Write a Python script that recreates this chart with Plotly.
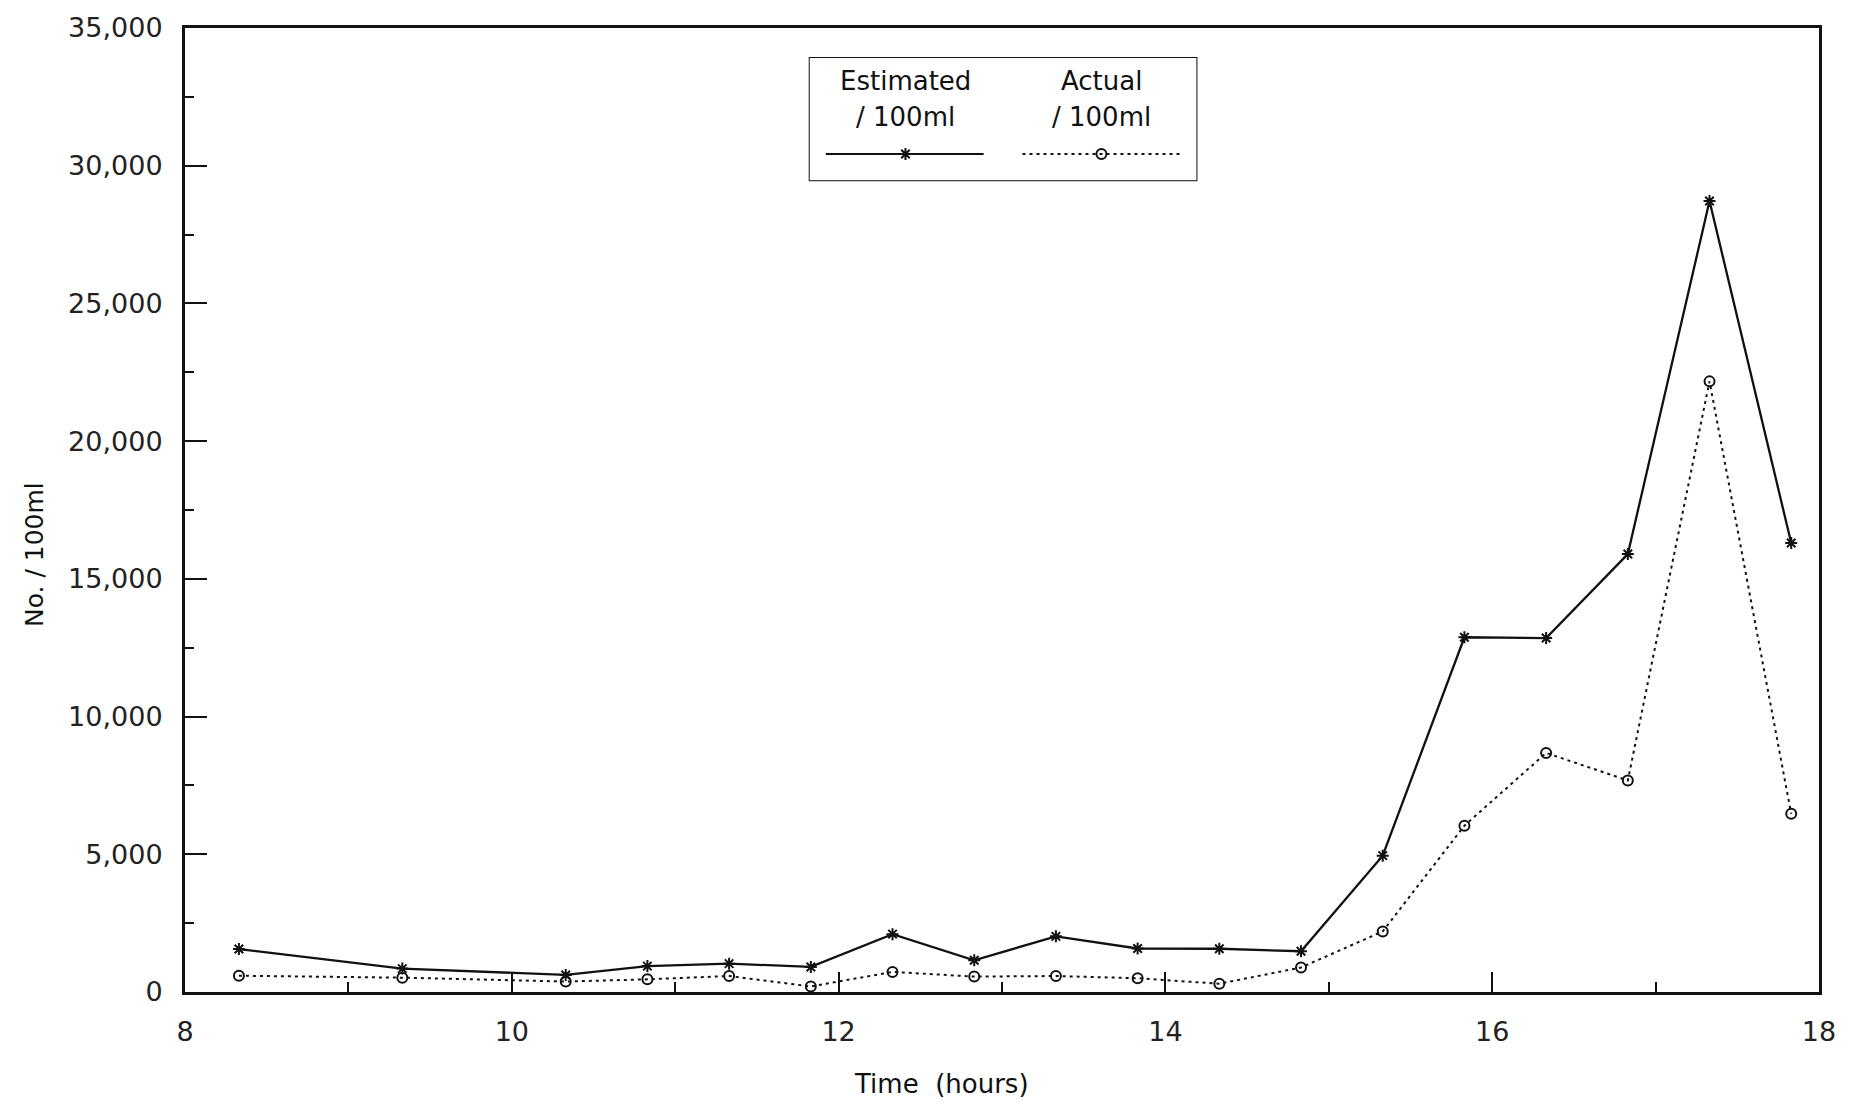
import plotly.graph_objects as go

# Sampling times (hours) and counts per 100 ml
hours = [8.33, 9.33, 10.33, 10.83, 11.33, 11.83, 12.33, 12.83, 13.33,
         13.83, 14.33, 14.83, 15.33, 15.83, 16.33, 16.83, 17.33, 17.83]
estimated = [1560, 850, 620, 940, 1030, 910, 2100, 1150, 2020,
             1580, 1570, 1480, 4950, 12880, 12850, 15900, 28720, 16300]
actual = [590, 520, 380, 460, 580, 200, 730, 560, 580,
          500, 300, 890, 2200, 6040, 8680, 7680, 22170, 6470]

x_ticks = [8, 10, 12, 14, 16, 18]
y_ticks = [0, 5000, 10000, 15000, 20000, 25000, 30000, 35000]
y_tick_text = ["0", "5,000", "10,000", "15,000", "20,000", "25,000", "30,000", "35,000"]

series_names = [("Estimated", "/ 100ml"), ("Actual", "/ 100ml")]

FONT = "DejaVu Sans"
INK = "#111111"
DOTS = "3px,4px"

est_marker = dict(symbol="asterisk-open", size=10, color=INK, line=dict(color=INK, width=2))
act_marker = dict(symbol="circle-open", size=10, color=INK, line=dict(color=INK, width=2))

fig = go.Figure()

fig.add_trace(go.Scatter(
    x=hours, y=estimated, mode="lines+markers",
    line=dict(color=INK, width=2.3), marker=est_marker,
    showlegend=False, cliponaxis=False,
))
fig.add_trace(go.Scatter(
    x=hours, y=actual, mode="lines+markers",
    line=dict(color=INK, width=2, dash=DOTS), marker=act_marker,
    showlegend=False, cliponaxis=False,
))

# Boxed key drawn on its own small pair of hidden axes
key_y = 0.22
fig.add_trace(go.Scatter(
    x=[0.044, 0.45], y=[key_y, key_y], mode="lines",
    line=dict(color=INK, width=2), xaxis="x2", yaxis="y2", showlegend=False,
))
fig.add_trace(go.Scatter(
    x=[0.249], y=[key_y], mode="markers", marker=est_marker,
    xaxis="x2", yaxis="y2", showlegend=False,
))
fig.add_trace(go.Scatter(
    x=[0.55, 0.956], y=[key_y, key_y], mode="lines",
    line=dict(color=INK, width=2, dash=DOTS), xaxis="x2", yaxis="y2", showlegend=False,
))
fig.add_trace(go.Scatter(
    x=[0.753], y=[key_y], mode="markers", marker=act_marker,
    xaxis="x2", yaxis="y2", showlegend=False,
))

key_font = dict(family=FONT, size=26, color=INK)
annotations = []
for cx, (line1, line2) in zip([0.249, 0.753], series_names):
    annotations.append(dict(text=line1, x=cx, y=0.81, xref="x2", yref="y2",
                            yanchor="middle", showarrow=False, font=key_font))
    annotations.append(dict(text=line2, x=cx, y=0.52, xref="x2", yref="y2",
                            yanchor="middle", showarrow=False, font=key_font))

annotations += [
    dict(text="Time  (hours)", x=0.463, y=-0.095, xref="paper", yref="paper",
         xanchor="center", yanchor="middle", showarrow=False,
         font=dict(family=FONT, size=26, color=INK)),
    dict(text="No. / 100ml", x=-0.092, y=0.454, xref="paper", yref="paper",
         xanchor="center", yanchor="middle", textangle=-90, showarrow=False,
         font=dict(family=FONT, size=25, color=INK)),
]

shapes = [
    dict(type="rect", xref="x2", yref="y2", x0=0, x1=1, y0=0, y1=1,
         line=dict(color=INK, width=2), fillcolor="white", layer="below"),
]

fig.update_layout(
    width=1858, height=1106,
    margin=dict(l=185, r=39, t=23, b=114),
    paper_bgcolor="white", plot_bgcolor="white",
    font=dict(family=FONT, size=27, color=INK),
    annotations=annotations, shapes=shapes,
    xaxis=dict(
        range=[8, 18], tickvals=x_ticks, ticktext=[str(v) for v in x_ticks],
        ticks="inside", ticklen=20, tickwidth=2, tickcolor=INK,
        minor=dict(dtick=1, tick0=8, ticks="inside", ticklen=10, tickwidth=2, tickcolor=INK),
        showline=True, linecolor=INK, linewidth=3, mirror=True,
        showgrid=False, zeroline=False, ticklabelstandoff=14,
        tickfont=dict(family=FONT, size=27, color="#222222"),
    ),
    yaxis=dict(
        range=[0, 35000], tickvals=y_ticks, ticktext=y_tick_text,
        ticks="inside", ticklen=22, tickwidth=2, tickcolor=INK,
        minor=dict(dtick=2500, tick0=0, ticks="inside", ticklen=9, tickwidth=2, tickcolor=INK),
        showline=True, linecolor=INK, linewidth=3, mirror=True,
        showgrid=False, zeroline=False, ticklabelstandoff=14,
        tickfont=dict(family=FONT, size=27, color="#222222"),
    ),
    xaxis2=dict(domain=[0.3817, 0.6196], range=[0, 1], anchor="y2", visible=False),
    yaxis2=dict(domain=[0.8410, 0.9700], range=[0, 1], anchor="x2", visible=False),
)

fig.write_html("out.html")
